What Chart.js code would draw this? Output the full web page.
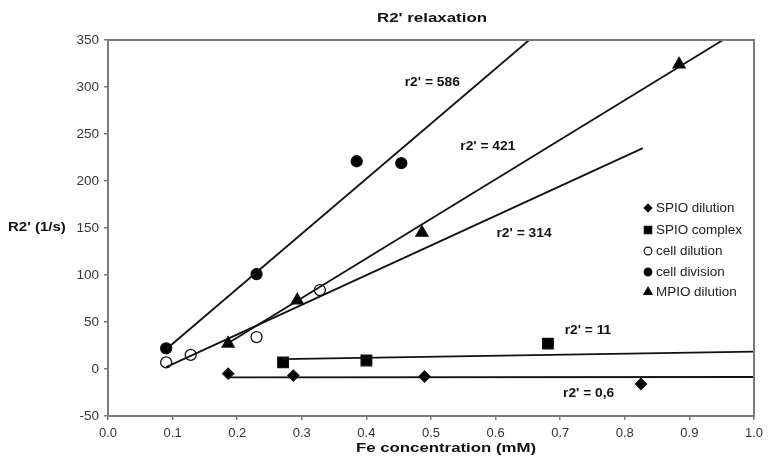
<!DOCTYPE html>
<html>
<head>
<meta charset="utf-8">
<script src="https://cdn.jsdelivr.net/npm/chart.js@4/dist/chart.umd.min.js"></script>
<style>
  html, body { margin: 0; padding: 0; background: #fff; }
  #wrap { width: 775px; height: 464px; position: relative; }
</style>
</head>
<body>
<div id="wrap"><canvas id="chart"></canvas></div>
<script>
// measured points [Fe mM, R2' 1/s]
const spioDilution = [[0.186, -5], [0.287, -7], [0.49, -8], [0.825, -16]];
const spioComplex = [[0.271, 7], [0.40, 9], [0.681, 27]];
const cellDilution = [[0.09, 7], [0.128, 15], [0.23, 34], [0.328, 84]];
const cellDivision = [[0.09, 22], [0.23, 101], [0.385, 221], [0.454, 219]];
const mpioDilution = [[0.186, 27], [0.293, 73], [0.486, 145], [0.884, 324]];

// trend line ends
const fit586 = [[0.09, 21], [0.652, 350]];
const fit421 = [[0.18, 25], [0.952, 350]];
const fit314 = [[0.09, 2], [0.828, 235]];
const fit11 = [[0.27, 10.5], [1.0, 18.5]];
const fit06 = [[0.186, -9], [1.0, -8.5]];

// labels [text, x, y]
const fitLabels = [
    ["r2' = 586", 0.502, 305],
    ["r2' = 421", 0.588, 236],
    ["r2' = 314", 0.644, 144],
    ["r2' = 11", 0.743, 41],
    ["r2' = 0,6", 0.744, -26]
];

const toXY = arr => arr.map(p => ({ x: p[0], y: p[1] }));

const pointSets = [
    { label: 'SPIO dilution', data: spioDilution, style: 'rectRot', r: 5.5, fill: '#000' },
    { label: 'SPIO complex', data: spioComplex, style: 'rect', r: 7.5, fill: '#000' },
    { label: 'cell dilution', data: cellDilution, style: 'circle', r: 5.5, fill: '#fff' },
    { label: 'cell division', data: cellDivision, style: 'circle', r: 5.5, fill: '#000' },
    { label: 'MPIO dilution', data: mpioDilution, style: 'triangle', r: 7, fill: '#000' }
];

const datasets = [];
[fit586, fit421, fit314, fit11, fit06].forEach(f => {
    datasets.push({
        label: 'fit',
        data: toXY(f),
        showLine: true,
        borderColor: '#111',
        borderWidth: 1.8,
        pointRadius: 0,
        fill: false
    });
});
pointSets.forEach(s => {
    datasets.push({
        label: s.label,
        data: toXY(s.data),
        showLine: false,
        pointStyle: s.style,
        pointRadius: s.r,
        pointHoverRadius: s.r,
        pointBackgroundColor: s.fill,
        pointBorderColor: '#111',
        pointBorderWidth: 1.3
    });
});

const FONT = '"Liberation Sans", Arial, sans-serif';

// text in the source image is a bit wider than Arial, so stretch it
function wideText(ctx, text, x, y, sx) {
    ctx.save();
    ctx.translate(x, y);
    ctx.scale(sx, 1);
    ctx.fillText(text, 0, 0);
    ctx.restore();
}

const overlay = {
    id: 'overlay',
    afterDraw(chart) {
        const ctx = chart.ctx;
        const a = chart.chartArea;
        const xs = chart.scales.x, ys = chart.scales.y;
        ctx.save();
        // box around plot
        ctx.strokeStyle = '#7a7a7a';
        ctx.lineWidth = 2;
        ctx.strokeRect(a.left, a.top, a.right - a.left, a.bottom - a.top);

        ctx.fillStyle = '#111';
        ctx.textBaseline = 'middle';
        ctx.textAlign = 'center';
        ctx.font = 'bold 13px ' + FONT;
        wideText(ctx, "R2' relaxation", 432, 18, 1.3);
        ctx.font = 'bold 12px ' + FONT;
        wideText(ctx, 'Fe concentration (mM)', 446, 449, 1.4);
        ctx.textAlign = 'left';
        ctx.font = 'bold 12.5px ' + FONT;
        wideText(ctx, "R2' (1/s)", 8, 228, 1.2);

        // fit labels
        ctx.font = 'bold 12px ' + FONT;
        ctx.textAlign = 'center';
        fitLabels.forEach(l => {
            wideText(ctx, l[0], xs.getPixelForValue(l[1]), ys.getPixelForValue(l[2]), 1.15);
        });

        // legend
        ctx.font = '12px ' + FONT;
        ctx.textAlign = 'left';
        const rowY = [208, 230, 251, 272, 292];
        pointSets.forEach((s, i) => {
            const y = rowY[i];
            ctx.fillStyle = s.fill;
            ctx.strokeStyle = '#111';
            ctx.lineWidth = 1.2;
            Chart.helpers.drawPoint(ctx, { pointStyle: s.style, radius: s.r * 0.7, rotation: 0, borderWidth: 1.2 }, 648, y);
            ctx.fillStyle = '#222';
            wideText(ctx, s.label, 656, y + 0.5, 1.12);
        });
        ctx.restore();
    }
};

new Chart(document.getElementById('chart'), {
    type: 'scatter',
    data: { datasets: datasets },
    options: {
        responsive: true,
        maintainAspectRatio: false,
        animation: false,
        events: [],
        layout: { padding: { top: 40, right: 21, left: 0, bottom: 0 } },
        plugins: {
            legend: { display: false },
            tooltip: { enabled: false },
            title: { display: false }
        },
        scales: {
            x: {
                type: 'linear',
                min: 0,
                max: 1.0,
                afterFit: s => { s.height = 48; },
                ticks: {
                    stepSize: 0.1,
                    color: '#333',
                    font: { family: FONT, size: 13 },
                    padding: 6,
                    maxRotation: 0,
                    callback: v => v.toFixed(1)
                },
                grid: { display: true, drawOnChartArea: false, drawTicks: true, tickLength: 4, color: '#7a7a7a', lineWidth: 1.5 },
                border: { display: true, color: '#7a7a7a', width: 2 }
            },
            y: {
                type: 'linear',
                min: -50,
                max: 350,
                afterFit: s => { s.width = 108; },
                ticks: {
                    stepSize: 50,
                    color: '#333',
                    font: { family: FONT, size: 13.5 },
                    padding: 5
                },
                grid: { display: true, drawOnChartArea: false, drawTicks: true, tickLength: 4, color: '#7a7a7a', lineWidth: 1.5 },
                border: { display: true, color: '#7a7a7a', width: 2 }
            }
        }
    },
    plugins: [overlay]
});
</script>
</body>
</html>
